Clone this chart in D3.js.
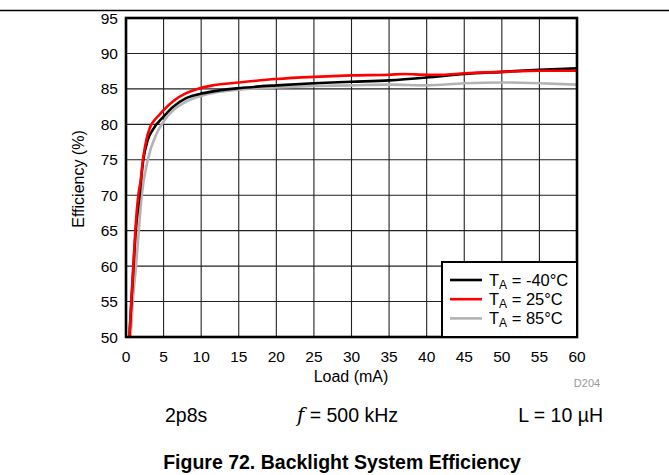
<!DOCTYPE html>
<html><head><meta charset="utf-8">
<script src="https://cdn.jsdelivr.net/npm/d3@7"></script>
<style>body{margin:0;background:#fff}svg{display:block;font-family:Arial,"Liberation Sans",sans-serif}</style>
</head><body>
<svg id="c" width="669" height="475"></svg>
<script>
// Data (Load mA, Efficiency %)
const loadM40 = [0.45,0.72,1.0,1.3,1.8,2.3,2.9,3.6,5,6.3,8,10.3,12.5,15,20,25,30,35,40,45,50,55,60];
const effM40  = [50,55,60,65,70,75,77.8,79.3,81.1,82.5,83.7,84.4,84.8,85.1,85.5,85.8,86.0,86.2,86.6,87.1,87.4,87.7,87.9];
const load25 = [0.45,0.7,0.97,1.24,1.64,1.95,2.25,2.7,3.2,3.8,4.4,5,6.3,8,9.5,11.6,15,20,25,30,35,37,40,42,45,50,55,60];
const eff25  = [50,55,60,65,70,72.1,75,77.8,79.6,80.6,81.3,82,83.3,84.4,85,85.5,85.9,86.4,86.7,86.9,87.0,87.1,87.0,87.0,87.2,87.4,87.55,87.55];
const load85 = [0.62,0.9,1.33,1.7,2.1,2.9,4.07,5,6.3,8,10.3,12.5,15,20,25,30,35,40,45,50,55,60];
const eff85  = [50,55,60,65,70,75,78.7,80.4,82.0,83.2,84.1,84.6,84.9,85.2,85.4,85.5,85.6,85.5,85.8,85.9,85.8,85.6];
const xTicks = [0,5,10,15,20,25,30,35,40,45,50,55,60];
const yTicks = [50,55,60,65,70,75,80,85,90,95];
const seriesNames = ["-40°C","25°C","85°C"];
const seriesColors = ["#000000","#ff0000","#b3b3b3"];

const svg = d3.select("#c");
const L=126, R=577, T=18, B=337;
const x = d3.scaleLinear().domain([0,60]).range([L,R]);
const y = d3.scaleLinear().domain([50,95]).range([B,T]);

// top rule
svg.append("line").attr("x1",0).attr("x2",669).attr("y1",10.5).attr("y2",10.5).attr("stroke","#000").attr("stroke-width",1.3);

// grid
const g = svg.append("g");
g.selectAll(".vx").data(xTicks.slice(1,-1)).join("line")
 .attr("x1",d=>x(d)).attr("x2",d=>x(d)).attr("y1",T).attr("y2",B).attr("stroke","#222").attr("stroke-width",1.1);
g.selectAll(".hy").data(yTicks.slice(1,-1)).join("line")
 .attr("y1",d=>y(d)).attr("y2",d=>y(d)).attr("x1",L).attr("x2",R).attr("stroke","#222").attr("stroke-width",1.1);

// curves
const series = [[loadM40,effM40],[load25,eff25],[load85,eff85]];
const line = d3.line().x(d=>x(d[0])).y(d=>y(d[1])).curve(d3.curveMonotoneX);
svg.append("clipPath").attr("id","pc").append("rect").attr("x",L).attr("y",T).attr("width",R-L).attr("height",B-T);
[2,0,1].forEach(i=>{
  const pts = series[i][0].map((l,k)=>[l,series[i][1][k]]);
  svg.append("path").attr("d",line(pts)).attr("fill","none").attr("stroke",seriesColors[i]).attr("stroke-width",2.6).attr("clip-path","url(#pc)");
});

// frame
svg.append("rect").attr("x",L).attr("y",T).attr("width",R-L).attr("height",B-T).attr("fill","none").attr("stroke","#000").attr("stroke-width",2.6);

// axes labels
svg.selectAll(".yt").data(yTicks).join("text").attr("x",118).attr("y",d=>y(d)+5.5).attr("text-anchor","end").attr("font-size",15.5).text(d=>d);
svg.selectAll(".xt").data(xTicks).join("text").attr("x",d=>x(d)).attr("y",362).attr("text-anchor","middle").attr("font-size",15.5).text(d=>d);
svg.append("text").attr("x",351).attr("y",382).attr("text-anchor","middle").attr("font-size",16).text("Load (mA)");
svg.append("text").attr("transform","translate(84,179) rotate(-90)").attr("text-anchor","middle").attr("font-size",16).text("Efficiency (%)");
svg.append("text").attr("x",587).attr("y",387).attr("text-anchor","middle").attr("font-size",11).attr("fill","#999").text("D204");

// legend
const lg = svg.append("g");
lg.append("rect").attr("x",442).attr("y",262).attr("width",R-442).attr("height",B-262).attr("fill","#fff").attr("stroke","#000").attr("stroke-width",2);
seriesNames.forEach((n,i)=>{
  const yy = 280 + i*19.2;
  lg.append("line").attr("x1",450).attr("x2",482).attr("y1",yy).attr("y2",yy).attr("stroke",seriesColors[i]).attr("stroke-width",2.6);
  const t = lg.append("text").attr("x",489).attr("y",yy+5.5).attr("font-size",16.5);
  t.append("tspan").text("T");
  t.append("tspan").attr("font-size",12).attr("dy",3).text("A");
  t.append("tspan").attr("dy",-3).text(" = " + n);
});

// footer
svg.append("text").attr("x",165).attr("y",422).attr("font-size",19.5).text("2p8s");
const ft = svg.append("text").attr("x",297).attr("y",422).attr("font-size",19.5);
ft.append("tspan").attr("font-style","italic").attr("font-family","'DejaVu Serif',serif").text("f");
ft.append("tspan").text(" = 500 kHz");
svg.append("text").attr("x",603).attr("y",422).attr("text-anchor","end").attr("font-size",19.5).text("L = 10 µH");
svg.append("text").attr("x",342).attr("y",469).attr("text-anchor","middle").attr("font-size",19.5).attr("font-weight","bold").text("Figure 72. Backlight System Efficiency");
</script>
</body></html>
